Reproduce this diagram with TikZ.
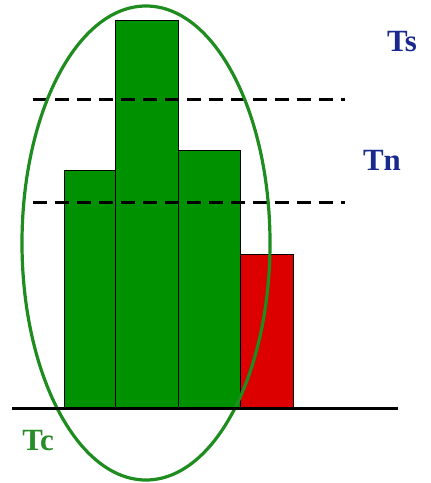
\documentclass[tikz,border=0pt]{standalone}
\usepackage{fontspec}
\setmainfont{Liberation Serif}
\usepackage{xcolor}
\usepackage{tikz}
\usetikzlibrary{positioning}
\definecolor{barGreen}{RGB}{0,145,0}
\definecolor{barRed}{RGB}{220,0,0}
\definecolor{ringGreen}{RGB}{30,140,30}
\definecolor{labelBlue}{RGB}{25,40,140}
\definecolor{labelGreen}{RGB}{40,140,40}

\begin{document}
\begin{tikzpicture}[x=1bp, y=-1bp]
\useasboundingbox (0,0) rectangle (430,483);

% bars
\filldraw[fill=barGreen, draw=black, line width=0.8bp] (64,408) rectangle (115,170);
\filldraw[fill=barGreen, draw=black, line width=0.8bp] (115,408) rectangle (178,20);
\filldraw[fill=barGreen, draw=black, line width=0.8bp] (178,408) rectangle (240,150);
\filldraw[fill=barRed, draw=black, line width=0.8bp] (240,408) rectangle (293,254);

% thresholds
\draw[black, line width=3bp, dash pattern=on 14bp off 8bp] (33,100) -- (345,100);
\draw[black, line width=3bp, dash pattern=on 14bp off 8bp] (33,202) -- (345,202);

\draw[ringGreen, line width=3.2bp] (146,243) ellipse [x radius=124bp, y radius=237bp];
\draw[black, line width=3bp] (12,408) -- (398,408);

\node[text=labelBlue, font=\bfseries\fontsize{31}{31}\selectfont] (ts) at (402,42) {Ts};
\node[text=labelBlue, font=\bfseries\fontsize{31}{31}\selectfont] (tn) at (382,160) {Tn};
\node[text=labelGreen, font=\bfseries\fontsize{31}{31}\selectfont] (tc) at (38,441) {Tc};
\end{tikzpicture}
\end{document}
